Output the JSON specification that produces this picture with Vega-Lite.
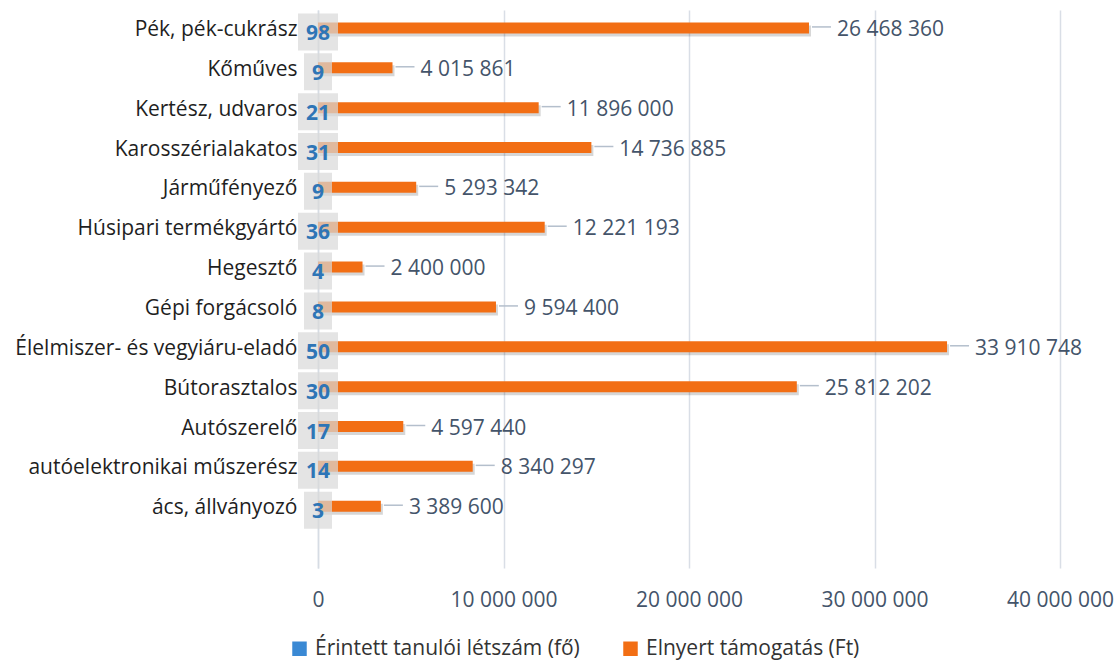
{
  "$schema": "https://vega.github.io/schema/vega-lite/v6.json",
  "width": 742,
  "height": 558,
  "autosize": {"type": "none"},
  "padding": {"left": 318, "top": 10, "right": 57, "bottom": 95},
  "background": "white",
  "config": {
    "font": "Open Sans",
    "view": {"stroke": null},
    "locale": {"number": {"decimal": ",", "thousands": " ", "grouping": [3], "currency": ["", ""]}}
  },
  "data": {
    "values": [
      {"nev": "Pék, pék-cukrász", "fo": 98, "ft": 26468360},
      {"nev": "Kőműves", "fo": 9, "ft": 4015861},
      {"nev": "Kertész, udvaros", "fo": 21, "ft": 11896000},
      {"nev": "Karosszérialakatos", "fo": 31, "ft": 14736885},
      {"nev": "Járműfényező", "fo": 9, "ft": 5293342},
      {"nev": "Húsipari termékgyártó", "fo": 36, "ft": 12221193},
      {"nev": "Hegesztő", "fo": 4, "ft": 2400000},
      {"nev": "Gépi forgácsoló", "fo": 8, "ft": 9594400},
      {"nev": "Élelmiszer- és vegyiáru-eladó", "fo": 50, "ft": 33910748},
      {"nev": "Bútorasztalos", "fo": 30, "ft": 25812202},
      {"nev": "Autószerelő", "fo": 17, "ft": 4597440},
      {"nev": "autóelektronikai műszerész", "fo": 14, "ft": 8340297},
      {"nev": "ács, állványozó", "fo": 3, "ft": 3389600}
    ]
  },
  "encoding": {
    "y": {
      "field": "nev",
      "type": "nominal",
      "sort": null,
      "scale": {
        "domain": ["Pék, pék-cukrász", "Kőműves", "Kertész, udvaros", "Karosszérialakatos", "Járműfényező", "Húsipari termékgyártó", "Hegesztő", "Gépi forgácsoló", "Élelmiszer- és vegyiáru-eladó", "Bútorasztalos", "Autószerelő", "autóelektronikai műszerész", "ács, állványozó", " "],
        "paddingInner": 0,
        "paddingOuter": 0
      },
      "axis": {
        "title": null,
        "labelFontSize": 21,
        "labelColor": "#1F1F1F",
        "labelPadding": 21,
        "labelLimit": 400,
        "ticks": false,
        "domainColor": "#D6DCE4",
        "domainWidth": 1.5,
        "grid": false
      }
    }
  },
  "layer": [
    {
      "mark": {"type": "bar", "color": "#000000", "opacity": 0.16, "size": 11, "yOffset": 1, "xOffset": 2},
      "encoding": {
        "x": {"field": "ft", "type": "quantitative", "scale": {"domain": [0, 40000000], "nice": false},
          "axis": {
            "title": null,
            "values": [0, 10000000, 20000000, 30000000, 40000000],
            "format": ",d",
            "domain": false,
            "ticks": false,
            "grid": true,
            "gridColor": "#D9DEE6",
            "gridWidth": 1.5,
            "labelFlush": false,
            "labelOverlap": false,
            "labelFontSize": 21,
            "labelColor": "#44546A",
            "labelPadding": 21
          }
        }
      }
    },
    {
      "mark": {"type": "bar", "size": 11, "yOffset": -2},
      "encoding": {
        "x": {"field": "ft", "type": "quantitative"},
        "color": {"datum": "Elnyert támogatás (Ft)", "type": "nominal",
          "scale": {"domain": ["Érintett tanulói létszám (fő)", "Elnyert támogatás (Ft)"], "range": ["#3A89D4", "#F26E14"]},
          "legend": {
            "title": null,
            "orient": "none",
            "direction": "horizontal",
            "legendX": -29,
            "legendY": 628,
            "symbolType": "square",
            "symbolSize": 210,
            "symbolStrokeWidth": 0,
            "labelFontSize": 21,
            "labelColor": "#333333",
            "labelOffset": 5,
            "columnPadding": 40,
            "labelLimit": 400
          }
        }
      }
    },
    {
      "mark": {"type": "bar", "size": 11, "yOffset": 9},
      "encoding": {
        "x": {"field": "fo", "type": "quantitative"},
        "color": {"datum": "Érintett tanulói létszám (fő)", "type": "nominal"}
      }
    },
    {
      "mark": {"type": "rule", "color": "#B4BFCC", "strokeWidth": 1.5, "xOffset": 3, "x2Offset": 22, "yOffset": -3},
      "encoding": {
        "x": {"field": "ft", "type": "quantitative"},
        "x2": {"field": "ft"}
      }
    },
    {
      "mark": {"type": "tick", "orient": "horizontal", "thickness": 37, "color": "#D9D9D9", "opacity": 0.7, "yOffset": 2},
      "encoding": {
        "x": {"datum": 0, "type": "quantitative"},
        "size": {"condition": {"test": "datum.fo >= 10", "value": 40}, "value": 28}
      }
    },
    {
      "mark": {"type": "text", "fontSize": 21, "fontWeight": "bold", "color": "#2E75B6", "align": "center", "baseline": "middle", "dy": 4},
      "encoding": {
        "x": {"datum": 0, "type": "quantitative"},
        "text": {"field": "fo", "type": "quantitative"}
      }
    },
    {
      "mark": {"type": "text", "fontSize": 21, "color": "#44546A", "align": "left", "baseline": "middle", "dx": 28},
      "encoding": {
        "x": {"field": "ft", "type": "quantitative"},
        "text": {"field": "ft", "type": "quantitative", "format": ",d"}
      }
    }
  ]
}
